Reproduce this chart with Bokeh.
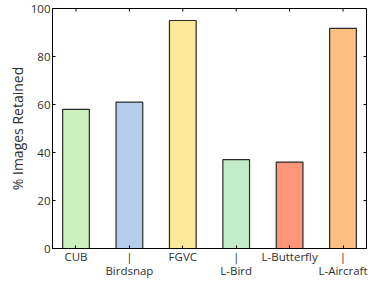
import math
from bokeh.plotting import figure
from bokeh.models import LinearAxis, FixedTicker, Range1d, ColumnDataSource
from bokeh.embed import file_html
from bokeh.resources import INLINE

categories = ["CUB", "Birdsnap", "FGVC", "L-Bird", "L-Butterfly", "L-Aircraft"]
tick_line1 = ["CUB", "|", "FGVC", "|", "L-Butterfly", "|"]
tick_line2 = ["", "Birdsnap", "", "L-Bird", "", "L-Aircraft"]
retained = [58, 61, 95, 37, 36, 91.7]
colors = ["#cdf1bd", "#b4cdea", "#fbe997", "#c1edc9", "#fd9679", "#fdbf82"]
y_ticks = [0, 20, 40, 60, 80, 100]

xs = list(range(len(categories)))
src = ColumnDataSource(dict(x=xs, top=retained, color=colors))

FONT = "Open Sans"
TXT = "#303030"
x0, x1 = -0.44, len(categories) - 1 + 0.44
y0, y1 = 0, 100
p = figure(frame_width=314, frame_height=240, output_backend="svg", toolbar_location=None,
           x_range=Range1d(x0, x1), y_range=Range1d(y0, y1),
           min_border_left=52, min_border_right=6, min_border_top=8, min_border_bottom=0,
           x_axis_location="below")
p.vbar(x="x", top="top", width=0.5, bottom=0, fill_color="color", line_color="#2a2a2a",
       line_width=1.2, source=src)

# inward ticks on the top and right frame edges
p.scatter(x=[x1] * len(y_ticks), y=y_ticks, marker="dash", size=6, line_color="black",
          line_width=1)
p.scatter(x=xs, y=[y1] * len(xs), marker="dash", size=6, angle=math.pi / 2,
          line_color="black", line_width=1)

p.xgrid.visible = False
p.ygrid.visible = False
p.outline_line_color = "black"
p.outline_line_width = 1

xt = FixedTicker(ticks=xs)
yt = FixedTicker(ticks=y_ticks)

xa = p.xaxis[0]
xa.ticker = xt
xa.major_label_overrides = {i: t for i, t in zip(xs, tick_line1)}
ya = p.yaxis[0]
ya.ticker = yt
ya.axis_label = "% Images Retained"

for ax in (xa, ya):
    ax.major_tick_in = 3
    ax.major_tick_out = 0
    ax.minor_tick_in = 0
    ax.minor_tick_out = 0
    ax.axis_line_color = "black"
    ax.major_tick_line_color = "black"
    ax.major_label_text_font = FONT
    ax.major_label_text_font_size = "11.5px"
    ax.major_label_text_color = TXT
    ax.major_label_standoff = 2
xa.major_label_standoff = 0
ya.axis_label_text_font = FONT
ya.axis_label_text_font_size = "14px"
ya.axis_label_text_font_style = "normal"
ya.axis_label_text_color = TXT
ya.axis_label_standoff = 1

xa2 = LinearAxis(ticker=xt, major_label_overrides={i: t for i, t in zip(xs, tick_line2)},
                 axis_line_color=None, major_tick_line_color=None, minor_tick_line_color=None,
                 major_tick_in=0, major_tick_out=0, minor_tick_in=0, minor_tick_out=0,
                 major_label_standoff=-4, major_label_text_font=FONT,
                 major_label_text_font_size="11.5px", major_label_text_color=TXT)
p.add_layout(xa2, "below")

open("out.html", "w").write(file_html(p, INLINE))
